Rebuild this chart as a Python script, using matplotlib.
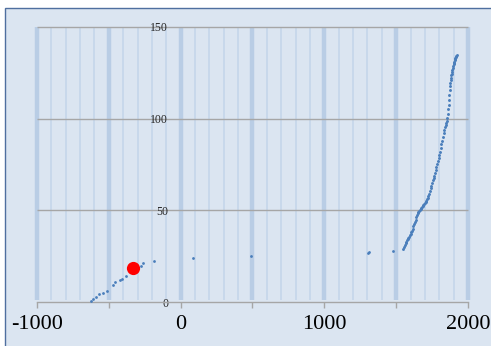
import matplotlib
matplotlib.use("Agg")
import matplotlib.pyplot as plt
from matplotlib.patches import Rectangle
from matplotlib.ticker import MultipleLocator

BG = "#dbe5f1"
GRID_MAJOR = "#b9cde5"
GRID_MINOR = "#c5d6ea"
GRAY = "#a6a6a6"
DOT = "#4a7ebb"

# early period
early_x = [-626, -610, -591, -568, -538, -515, -471, -459, -424, -406, -382, -336,
           -278, -259, -188]
early_y = [0.9, 1.8, 3.0, 4.3, 5.2, 6.1, 9.4, 10.9, 12.1, 12.8, 14.3, 17.5,
           19.7, 21.2, 22.6]

# sparse middle period
mid_x = [86, 487, 1307, 1310, 1477]
mid_y = [24.1, 25.0, 26.8, 27.3, 28.0]

# dense recent period
late_x = list(range(1550, 1855, 5)) + [
    1855, 1857, 1860, 1862, 1865, 1867, 1870, 1872, 1875, 1877,
    1880, 1882, 1885, 1887, 1890, 1892, 1895, 1897, 1900, 1902,
    1905, 1907, 1910, 1912, 1915, 1917, 1920]
late_y = [29.0, 30.3, 31.2, 32.2, 33.0, 33.8, 34.6, 35.2, 35.8, 36.4,
          37.2, 38.0, 38.8, 40.0, 41.3, 42.5, 43.8, 45.0, 46.2, 47.3,
          48.4, 49.2, 49.9, 50.4, 50.9, 51.3, 51.7, 52.2, 52.8, 53.4,
          54.0, 54.7, 55.3, 56.0, 56.8, 57.8, 59.0, 60.5, 62.0, 63.5,
          65.0, 66.3, 67.6, 69.0, 70.5, 72.0, 73.5, 75.2, 77.0, 78.5,
          80.2, 82.0, 84.0, 86.0, 88.0, 90.0, 92.0, 93.8, 95.3, 96.6,
          97.6,
          98.8, 100.5, 102.5, 105.0, 107.5, 110.0, 113.0, 115.5, 117.5, 119.5,
          121.0, 122.3, 123.5, 124.5, 125.5, 126.5, 127.5, 128.5, 129.5, 130.2,
          131.0, 131.8, 132.5, 133.0, 133.5, 134.0, 134.5]

# highlighted point
mark_x = [-330]
mark_y = [18.6]

plt.rcParams["font.family"] = ["Liberation Serif", "DejaVu Serif"]

fig = plt.figure(figsize=(4.91, 3.46), dpi=100)
fig.patch.set_facecolor("white")
fig.patches.append(Rectangle((4.5 / 491, -0.05), 1.2, 1.05 - 7.5 / 346,
                             transform=fig.transFigure, facecolor=BG,
                             edgecolor="#4f6f9f", lw=1.0, zorder=-1))

ax = fig.add_axes([37 / 491, 1 - 302.3 / 346, 431 / 491, 275.6 / 346])
ax.set_facecolor("none")
ax.set_xlim(-1000, 2000)
ax.set_ylim(0, 150)

# vertical gridlines: wide bands every 500, thin lines every 100
for xv in range(-1000, 2001, 100):
    if xv % 500 == 0:
        ax.vlines(xv, 1.2, 150, color=GRID_MAJOR, lw=3.2, zorder=1, clip_on=False)
    else:
        ax.vlines(xv, 1.2, 150, color=GRID_MINOR, lw=1.2, zorder=1)
for yv in (50, 100, 150):
    ax.hlines(yv, -1000, 2000, color=GRAY, lw=1.0, zorder=1.5, clip_on=False)

ax.plot(early_x, early_y, "o", ms=2.0, color=DOT, mec="none", zorder=3)
ax.plot(mid_x, mid_y, "o", ms=2.0, color=DOT, mec="none", zorder=3)
ax.plot(late_x, late_y, "o", ms=2.1, color=DOT, mec="none", zorder=3)
ax.plot(mark_x, mark_y, "o", ms=9.5, color="#ff0000", mec="none", zorder=4)

for s in ("top", "right"):
    ax.spines[s].set_visible(False)
ax.spines["bottom"].set_color(GRAY)
ax.spines["bottom"].set_linewidth(1.0)
ax.spines["left"].set_position(("data", 0))
ax.spines["left"].set_color("none")

ax.set_xticks(range(-1000, 2001, 500))
ax.set_xticklabels([str(v) if v % 1000 == 0 else "" for v in range(-1000, 2001, 500)])
ax.tick_params(axis="x", direction="out", length=4, width=1, color=GRAY,
               labelsize=16, labelcolor="black", pad=5)
ax.set_yticks([0, 50, 100, 150])
ax.tick_params(axis="y", length=0, labelsize=8.5, labelcolor="#262626", pad=9)
ax.xaxis.set_minor_locator(MultipleLocator(100))
ax.tick_params(axis="x", which="minor", length=0)

fig.savefig("out.png", dpi=100)
